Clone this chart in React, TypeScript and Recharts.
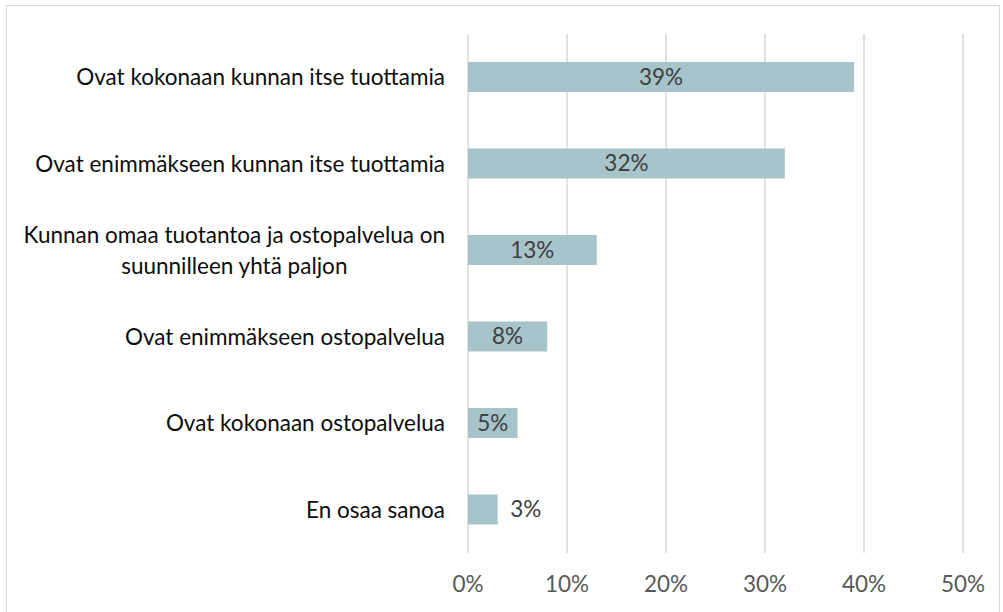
import React from "react";
import { BarChart, Bar, XAxis, YAxis, CartesianGrid, LabelList } from "recharts";

const categories = [
  "Ovat kokonaan kunnan itse tuottamia",
  "Ovat enimmäkseen kunnan itse tuottamia",
  "Kunnan omaa tuotantoa ja ostopalvelua on\nsuunnilleen yhtä paljon",
  "Ovat enimmäkseen ostopalvelua",
  "Ovat kokonaan ostopalvelua",
  "En osaa sanoa",
];
const values = [39, 32, 13, 8, 5, 3];
const xTicks = [0, 10, 20, 30, 40, 50];

const data = categories.map((c, i) => ({ name: c, value: values[i] }));

const FONT = "Lato, 'Open Sans', sans-serif";
const FS = 22.5;

function measure(text: string): number {
  try {
    const c = document.createElement("canvas");
    const ctx = c.getContext("2d");
    if (!ctx) return text.length * 10;
    ctx.font = `${FS}px Lato`;
    return ctx.measureText(text).width;
  } catch {
    return text.length * 10;
  }
}

const CategoryTick = (props: any) => {
  const { x, y, payload } = props;
  const lines = String(payload.value).split("\n");
  if (lines.length === 1) {
    return (
      <text x={x} y={y} dy="0.35em" textAnchor="end" fill="#0d0d0d" fontSize={FS} fontFamily={FONT}>
        {lines[0]}
      </text>
    );
  }
  const w = Math.max(...lines.map(measure));
  const cx = x - w / 2;
  const lh = 31;
  const start = y - ((lines.length - 1) * lh) / 2;
  return (
    <text textAnchor="middle" fill="#0d0d0d" fontSize={FS} fontFamily={FONT}>
      {lines.map((l, i) => (
        <tspan key={i} x={cx} y={start + i * lh} dy="0.35em">
          {l}
        </tspan>
      ))}
    </text>
  );
};

const ValueLabel = (props: any) => {
  const { x, y, width, height, value } = props;
  const inside = width > 45;
  const lx = inside ? x + width / 2 : x + width + 28;
  return (
    <text x={lx} y={y + height / 2} dy="0.35em" textAnchor="middle" fill="#404040" fontSize={FS} fontFamily={FONT}>
      {`${value}%`}
    </text>
  );
};

export default function App() {
  return (
    <div style={{ position: "absolute", left: 0, top: 0, width: 1003, height: 612, background: "#fff", overflow: "hidden" }}>
      <div
        style={{
          position: "absolute",
          left: 6,
          top: 5,
          width: 994,
          height: 620,
          border: "1px solid #d9d9d9",
          boxSizing: "border-box",
        }}
      />
      <div style={{ position: "absolute", left: 0, top: 0 }}>
        <BarChart
          width={1003}
          height={612}
          data={data}
          layout="vertical"
          margin={{ top: 34, right: 40, bottom: 0, left: 0 }}
        >
          <CartesianGrid horizontal={false} vertical={true} stroke="#d9d9d9" strokeWidth={1.5} />
          <XAxis
            type="number"
            domain={[0, 50]}
            ticks={xTicks}
            tickFormatter={(v: number) => `${v}%`}
            axisLine={false}
            tickLine={false}
            tickSize={0}
            tickMargin={23}
            height={59}
            interval={0}
            tick={{ fill: "#595959", fontSize: FS, fontFamily: FONT }}
          />
          <YAxis
            type="category"
            dataKey="name"
            width={468}
            axisLine={false}
            tickLine={false}
            tickSize={0}
            tickMargin={23}
            interval={0}
            tick={<CategoryTick />}
          />
          <Bar dataKey="value" fill="#a6c4c9" barSize={30} isAnimationActive={false}>
            <LabelList dataKey="value" content={<ValueLabel />} />
          </Bar>
        </BarChart>
      </div>
    </div>
  );
}
